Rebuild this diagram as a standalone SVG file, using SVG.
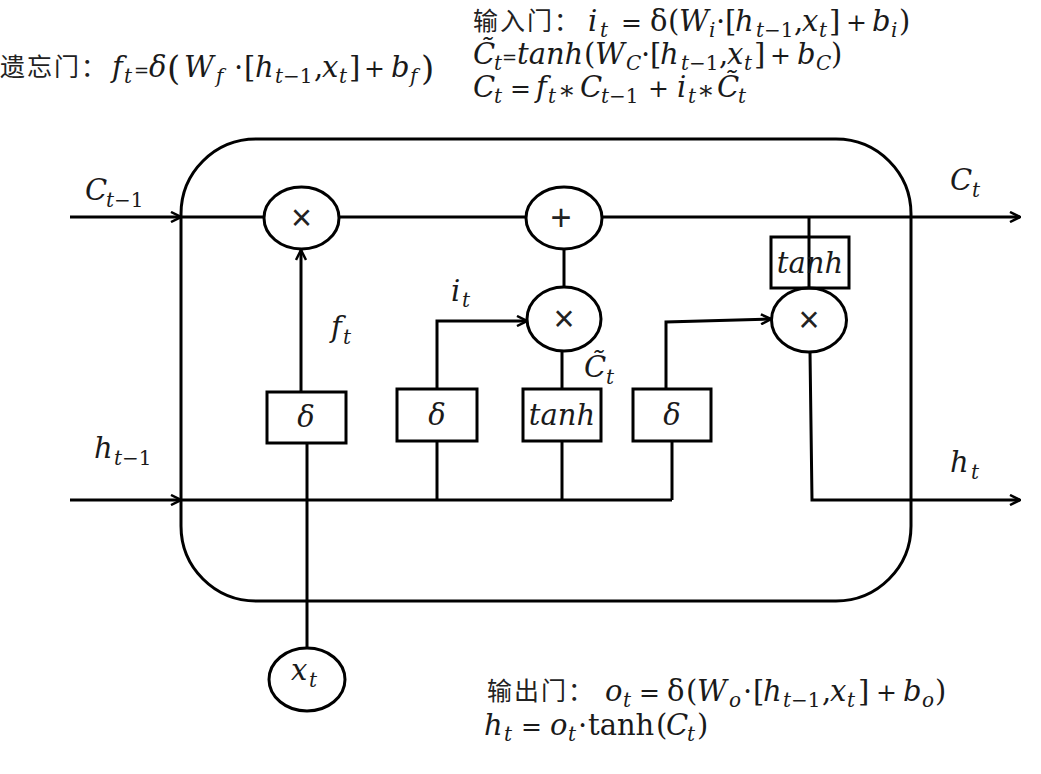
<svg xmlns="http://www.w3.org/2000/svg" width="1041" height="774" viewBox="0 0 1041 774">
<style>
.ln{fill:none;stroke:#000;stroke-width:3}
.nd{fill:#fff;stroke:#000;stroke-width:3}
.m{font-family:"DejaVu Serif","Liberation Serif",serif;font-style:italic;font-size:29px;fill:#1a1a1a}
.u{font-style:normal}
.s{font-size:20px}
.o{font-style:normal;font-size:25px}
.ast{font-style:normal;font-size:26px}
.cn{font-family:"Noto Sans CJK SC","Noto Sans",sans-serif;font-size:25px;letter-spacing:2px;fill:#222}
.op{font-family:"Liberation Sans","DejaVu Sans",sans-serif;font-size:36px;fill:#222}
</style>
<defs>
<marker id="arr" viewBox="0 0 12 12" refX="11" refY="6" markerWidth="12" markerHeight="12" markerUnits="userSpaceOnUse" orient="auto">
<path d="M1,1 L11,6 L1,11" fill="none" stroke="#000" stroke-width="2.5"/>
</marker>
</defs>
<rect width="1041" height="774" fill="#fff"/>

<g id="cell-frame">
<rect x="181" y="139" width="730" height="462" rx="75" ry="75" class="ln"/>
</g>

<g id="connectors">
<path class="ln" d="M70,217 H181" marker-end="url(#arr)"/>
<path class="ln" d="M181,217 H1020" marker-end="url(#arr)"/>
<path class="ln" d="M70,500 H181" marker-end="url(#arr)"/>
<path class="ln" d="M181,500 H672"/>
<path class="ln" d="M307,648 V443"/>
<path class="ln" d="M301,392 V250" marker-end="url(#arr)"/>
<path class="ln" d="M437,500 V441"/>
<path class="ln" d="M437,389 V321 H527" marker-end="url(#arr)"/>
<path class="ln" d="M562,500 V441"/>
<path class="ln" d="M562,389 V351"/>
<path class="ln" d="M564,249 V287"/>
<path class="ln" d="M672,500 V441"/>
<path class="ln" d="M666,389 V322 L771,319" marker-end="url(#arr)"/>
<path class="ln" d="M809,217 V288"/>
<path class="ln" d="M810,352 L812,500 H1020" marker-end="url(#arr)"/>
</g>

<g id="forget-mul">
<ellipse cx="301.5" cy="218" rx="37.5" ry="31" class="nd"/>
<text x="301.5" y="230" class="op" text-anchor="middle">×</text>
</g>
<g id="add">
<ellipse cx="564" cy="218" rx="38" ry="31" class="nd"/>
<text x="561" y="230" class="op" text-anchor="middle">+</text>
</g>
<g id="input-mul">
<ellipse cx="564" cy="319" rx="37" ry="32" class="nd"/>
<text x="564" y="331" class="op" text-anchor="middle">×</text>
</g>
<g id="output-mul">
<ellipse cx="809" cy="320" rx="37.5" ry="32" class="nd"/>
<text x="809" y="332" class="op" text-anchor="middle">×</text>
</g>
<g id="tanh-out">
<rect x="771" y="237" width="78" height="51" fill="none" stroke="#000" stroke-width="3"/>
<text x="810" y="273" class="m" font-size="26" text-anchor="middle">tanh</text>
</g>
<g id="sigma-forget">
<rect x="267" y="392" width="79" height="51" class="nd"/>
<text x="306" y="427" class="m" text-anchor="middle">δ</text>
</g>
<g id="sigma-input">
<rect x="397" y="389" width="80" height="52" class="nd"/>
<text x="437" y="425" class="m" text-anchor="middle">δ</text>
</g>
<g id="tanh-cand">
<rect x="523" y="389" width="78" height="52" class="nd"/>
<text x="562" y="425" class="m" font-size="26" text-anchor="middle">tanh</text>
</g>
<g id="sigma-output">
<rect x="633" y="389" width="78" height="52" class="nd"/>
<text x="672" y="425" class="m" text-anchor="middle">δ</text>
</g>
<g id="input-x">
<ellipse cx="307" cy="679.5" rx="38" ry="31.5" class="nd"/>
<text class="m"><tspan x="291" y="680">x</tspan><tspan x="309" y="687" class="s">t</tspan></text>
</g>

<g id="labels">
<text class="m"><tspan x="85" y="200">C</tspan><tspan x="106" y="207" class="s">t</tspan><tspan x="114" y="207" class="s u">−1</tspan></text>
<text class="m"><tspan x="94" y="458">h</tspan><tspan x="114" y="465" class="s">t</tspan><tspan x="122" y="465" class="s u">−1</tspan></text>
<text class="m"><tspan x="331" y="337">f</tspan><tspan x="343" y="344" class="s">t</tspan></text>
<text class="m"><tspan x="451" y="301">i</tspan><tspan x="462" y="307" class="s">t</tspan></text>
<text class="m"><tspan x="584" y="377">C&#x303;</tspan><tspan x="606" y="384" class="s">t</tspan></text>
<text class="m"><tspan x="950" y="190">C</tspan><tspan x="972" y="197" class="s">t</tspan></text>
<text class="m"><tspan x="950" y="472">h</tspan><tspan x="971" y="479" class="s">t</tspan></text>
</g>

<g id="formula-forget">
<text x="0" y="76" class="cn">遗忘门：</text>
<text class="m">
<tspan x="112" y="77">f</tspan><tspan x="124" y="83" class="s">t</tspan>
<tspan x="134" y="77" class="u" font-size="18">=</tspan>
<tspan x="149" y="77">δ</tspan>
<tspan x="167" y="80" class="u" font-size="34">(</tspan>
<tspan x="184" y="77">W</tspan><tspan x="216" y="83" class="s">f</tspan>
<tspan x="234" y="77" class="u">·</tspan>
<tspan x="244" y="77" class="u">[</tspan>
<tspan x="255" y="77">h</tspan><tspan x="275" y="83" class="s">t</tspan><tspan x="283" y="83" class="s u">−1</tspan>
<tspan x="314" y="77" class="u">,</tspan>
<tspan x="322" y="77">x</tspan><tspan x="339" y="83" class="s">t</tspan>
<tspan x="349" y="77" class="u">]</tspan>
<tspan x="364" y="77" class="o">+</tspan>
<tspan x="391" y="77">b</tspan><tspan x="410" y="83" class="s">f</tspan>
<tspan x="421" y="80" class="u" font-size="34">)</tspan>
</text>
</g>

<g id="formula-input">
<text x="473" y="30" class="cn">输入门：</text>
<text class="m">
<tspan x="588" y="31">i</tspan><tspan x="600" y="37" class="s">t</tspan>
<tspan x="621" y="31" class="o">=</tspan>
<tspan x="650" y="31" class="u">δ</tspan>
<tspan x="668" y="31" class="u">(</tspan>
<tspan x="679" y="31">W</tspan><tspan x="709" y="37" class="s">i</tspan>
<tspan x="716" y="31" class="u">·</tspan>
<tspan x="725" y="31" class="u">[</tspan>
<tspan x="735" y="31">h</tspan><tspan x="756" y="37" class="s">t</tspan><tspan x="764" y="37" class="s u">−1</tspan>
<tspan x="794" y="31" class="u">,</tspan>
<tspan x="802" y="31">x</tspan><tspan x="819" y="37" class="s">t</tspan>
<tspan x="829" y="31" class="u">]</tspan>
<tspan x="846" y="31" class="o">+</tspan>
<tspan x="872" y="31">b</tspan><tspan x="891" y="37" class="s">i</tspan>
<tspan x="899" y="31" class="u">)</tspan>
</text>
<text class="m">
<tspan x="473" y="64">C&#x303;</tspan><tspan x="494" y="70" class="s">t</tspan>
<tspan x="502" y="64" class="u" font-size="18">=</tspan>
<tspan x="517" y="64">tanh</tspan>
<tspan x="584" y="64" class="u">(</tspan>
<tspan x="595" y="64">W</tspan><tspan x="626" y="70" class="s">C</tspan>
<tspan x="641" y="64" class="u">·</tspan>
<tspan x="650" y="64" class="u">[</tspan>
<tspan x="660" y="64">h</tspan><tspan x="681" y="70" class="s">t</tspan><tspan x="689" y="70" class="s u">−1</tspan>
<tspan x="719" y="64" class="u">,</tspan>
<tspan x="727" y="64">x</tspan><tspan x="744" y="70" class="s">t</tspan>
<tspan x="754" y="64" class="u">]</tspan>
<tspan x="770" y="64" class="o">+</tspan>
<tspan x="797" y="64">b</tspan><tspan x="816" y="70" class="s">C</tspan>
<tspan x="831" y="64" class="u">)</tspan>
</text>
<text class="m">
<tspan x="473" y="97">C</tspan><tspan x="494" y="103" class="s">t</tspan>
<tspan x="510" y="97" class="o">=</tspan>
<tspan x="536" y="97">f</tspan><tspan x="548" y="103" class="s">t</tspan>
<tspan x="558" y="99" class="ast">∗</tspan>
<tspan x="580" y="97">C</tspan><tspan x="601" y="103" class="s">t</tspan><tspan x="609" y="103" class="s u">−1</tspan>
<tspan x="648" y="97" class="o">+</tspan>
<tspan x="677" y="97">i</tspan><tspan x="688" y="103" class="s">t</tspan>
<tspan x="697" y="99" class="ast">∗</tspan>
<tspan x="717" y="97">C&#x303;</tspan><tspan x="738" y="103" class="s">t</tspan>
</text>
</g>

<g id="formula-output">
<text x="487" y="700" class="cn">输出门：</text>
<text class="m">
<tspan x="605" y="701">o</tspan><tspan x="623" y="707" class="s">t</tspan>
<tspan x="639" y="701" class="o">=</tspan>
<tspan x="667" y="701" class="u">δ</tspan>
<tspan x="686" y="701" class="u">(</tspan>
<tspan x="697" y="701">W</tspan><tspan x="729" y="707" class="s">o</tspan>
<tspan x="743" y="701" class="u">·</tspan>
<tspan x="753" y="701" class="u">[</tspan>
<tspan x="763" y="701">h</tspan><tspan x="783" y="707" class="s">t</tspan><tspan x="791" y="707" class="s u">−1</tspan>
<tspan x="822" y="701" class="u">,</tspan>
<tspan x="830" y="701">x</tspan><tspan x="847" y="707" class="s">t</tspan>
<tspan x="858" y="701" class="u">]</tspan>
<tspan x="876" y="701" class="o">+</tspan>
<tspan x="903" y="701">b</tspan><tspan x="922" y="707" class="s">o</tspan>
<tspan x="935" y="701" class="u">)</tspan>
</text>
<text class="m">
<tspan x="484" y="735">h</tspan><tspan x="504" y="741" class="s">t</tspan>
<tspan x="521" y="735" class="o">=</tspan>
<tspan x="550" y="735">o</tspan><tspan x="568" y="741" class="s">t</tspan>
<tspan x="578" y="735" class="u">·</tspan>
<tspan x="588" y="735" class="u">tanh</tspan>
<tspan x="656" y="735" class="u">(</tspan>
<tspan x="666" y="735">C</tspan><tspan x="687" y="741" class="s">t</tspan>
<tspan x="697" y="735" class="u">)</tspan>
</text>
</g>
</svg>
